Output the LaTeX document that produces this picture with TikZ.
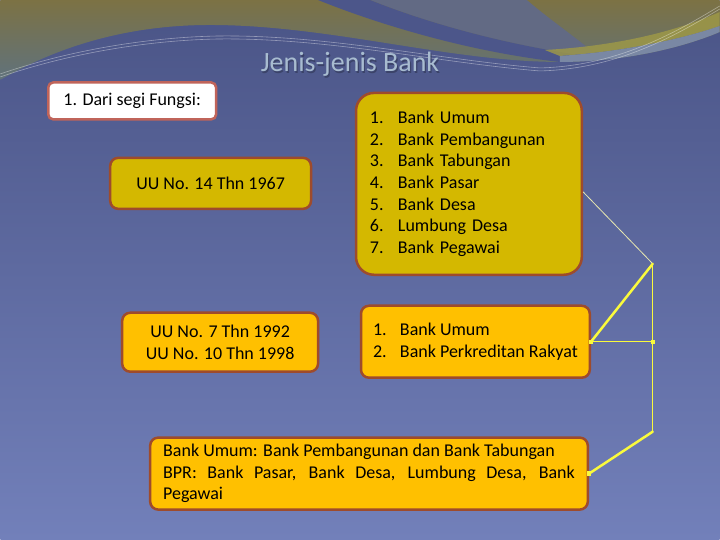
\documentclass[tikz,border=0pt]{standalone}
\usepackage{fontspec}
\setmainfont{Carlito}
\usepackage{tikz}
\definecolor{bgtop}{RGB}{74, 84, 134}
\definecolor{bgbottom}{RGB}{114, 128, 186}
\definecolor{olivetop}{RGB}{124, 114, 68}
\definecolor{olivebottom}{RGB}{96, 114, 124}
\definecolor{swoosh}{RGB}{76, 86, 138}
\definecolor{haze}{RGB}{98, 106, 132}
\definecolor{streak}{RGB}{160, 154, 70}
\definecolor{band}{RGB}{122, 136, 164}
\definecolor{titlecol}{RGB}{168, 188, 208}
\definecolor{rim}{RGB}{158, 75, 44}
\definecolor{rimred}{RGB}{192, 100, 90}
\definecolor{mustard}{RGB}{212, 184, 0}
\definecolor{amber}{RGB}{255, 192, 0}
\definecolor{wire}{RGB}{250, 250, 60}
\definecolor{palewire}{RGB}{232, 232, 176}

\begin{document}
\begin{tikzpicture}[x=1pt, y=-1pt,
    bankbox/.style={draw=rim, line width=2.5, rounded corners=8, inner sep=0,
                    font=\fontsize{18}{21.6}\selectfont},
    link/.style={draw=wire, line cap=round}]

  \shade[top color=bgtop, bottom color=bgbottom] (0, 0) rectangle (720, 540);

  \shade[top color=olivetop, bottom color=olivebottom]
    (0, 0) -- (720, 0) -- (720, 32)
    .. controls (690, 45) and (630, 62) .. (560, 62)
    .. controls (450, 62) and (330, 25) .. (210, 25)
    .. controls (130, 25) and (60, 45) .. (0, 80) -- cycle;

  \fill[haze] (370, 0) .. controls (420, 20) and (500, 45) .. (600, 58)
    .. controls (580, 40) and (550, 20) .. (527, 0) -- cycle;
  \fill[swoosh] (318, 0) .. controls (380, 25) and (470, 52) .. (560, 62)
    -- (600, 58) .. controls (500, 45) and (420, 20) .. (370, 0) -- cycle;
  \fill[streak, opacity=0.8] (545, 50) .. controls (620, 46) and (680, 30) .. (720, 12)
    -- (720, 26) .. controls (680, 40) and (620, 52) .. (560, 56) -- cycle;
  \fill[band] (560, 56) .. controls (620, 52) and (680, 40) .. (720, 26)
    -- (720, 32) .. controls (690, 45) and (630, 62) .. (560, 62) -- cycle;

  \foreach \s in {0, 3} {
    \draw[white, opacity=0.4, line width=0.6]
      (0, 74 + \s) .. controls (70, 50 + \s) and (150, 37 + \s) .. (220, 36 + \s)
      .. controls (330, 35 + \s) and (440, 60 + \s) .. (540, 68 + \s)
      .. controls (620, 66 + \s) and (680, 30 + \s) .. (720, 6 + \s);
  }

  \node[font=\fontsize{28}{34}\selectfont, text=black, opacity=0.25, anchor=base] (titleshadow) at (351.2, 73.2) {Jenis-jenis Bank};
  \node[font=\fontsize{28}{34}\selectfont, text=titlecol, anchor=base] (title) at (350, 72) {Jenis-jenis Bank};

  \node[bankbox, fill=white, draw=rimred, rounded corners=5, minimum width=168, minimum height=37] (fungsi) at (132, 101) {1. Dari segi Fungsi:};
  \node[bankbox, fill=mustard, minimum width=201, minimum height=51] (uu14) at (210.5, 183.5) {UU No. 14 Thn 1967};
  \node[bankbox, fill=mustard, rounded corners=18, minimum width=226, minimum height=182, text width=198, align=left] (list) at (469, 184)
    {\makebox[28pt][l]{1.}Bank Umum\\
     \makebox[28pt][l]{2.}Bank Pembangunan\\
     \makebox[28pt][l]{3.}Bank Tabungan\\
     \makebox[28pt][l]{4.}Bank Pasar\\
     \makebox[28pt][l]{5.}Bank Desa\\
     \makebox[28pt][l]{6.}Lumbung Desa\\
     \makebox[28pt][l]{7.}Bank Pegawai};

  \node[bankbox, fill=amber, minimum width=196, minimum height=59, align=center] (uu7) at (220, 342.5) {UU No. 7 Thn 1992\\UU No. 10 Thn 1998};
  \node[bankbox, fill=amber, minimum width=229, minimum height=72, align=left] (bpr) at (475.5, 342)
    {\makebox[27pt][l]{1.}Bank Umum\\
     \makebox[27pt][l]{2.}Bank Perkreditan Rakyat};

  \node[bankbox, fill=amber, minimum width=438, minimum height=72, text width=412, align=justify] (bottom) at (369, 474)
    {\hyphenpenalty=10000 \tolerance=9999
     Bank Umum: Bank Pembangunan dan Bank Tabungan\par
     BPR: Bank Pasar, Bank Desa, Lumbung Desa, Bank \mbox{Pegawai}\par};

  \coordinate (fork) at (653, 264);
  \coordinate (mid) at (653, 342);
  \coordinate (foot) at (653, 432);

  \draw[palewire, line width=0.8] ([yshift=-8]list.east) -- (fork);
  \draw[link, line width=2.5] (fork) -- (bpr.east);
  \draw[link, line width=1.5] (bpr.east) -- (mid);
  \draw[link, line width=1.2] (fork) -- (foot);
  \draw[link, line width=2.5] (foot) -- (bottom.east);
  \foreach \p in {bpr.east, mid, bottom.east}
    \fill[wire] (\p) ++(-2.2, -2.2) rectangle ++(4.4, 4.4);

\end{tikzpicture}
\end{document}
